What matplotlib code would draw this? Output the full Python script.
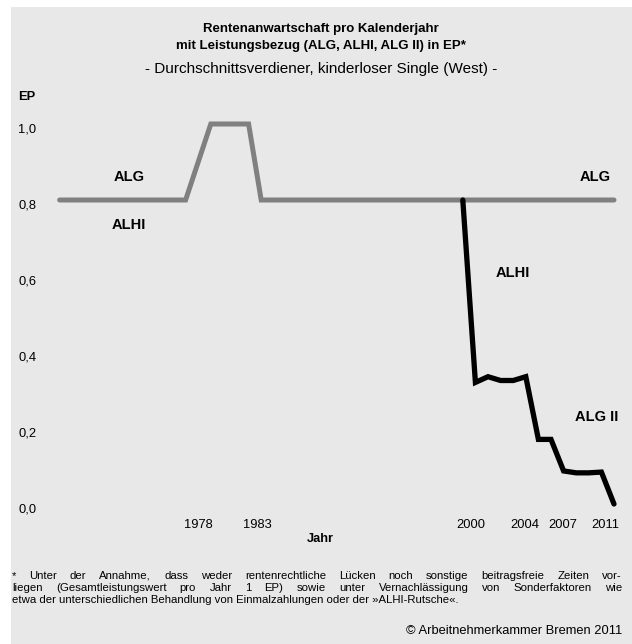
import matplotlib
matplotlib.use('Agg')
import matplotlib.pyplot as plt
from matplotlib.patches import Rectangle

plt.rcParams['font.family'] = ['Liberation Sans', 'DejaVu Sans']

# Data: ALG / ALHI up to 1999 (grey line)
alg_years = [1967, 1977, 1979, 1982, 1983, 2011]
alg_ep = [0.80, 0.80, 1.00, 1.00, 0.80, 0.80]

# ALHI from 2000, ALG II from 2005 (black line)
alhi_years = [1999, 2000, 2001, 2002, 2003, 2004, 2005, 2006, 2007, 2008, 2009, 2010, 2011]
alhi_ep = [0.80, 0.32, 0.335, 0.325, 0.325, 0.335, 0.17, 0.17, 0.087, 0.082, 0.082, 0.084, 0.0]

tick_years = ['1978', '1983', '2000', '2004', '2007', '2011']
tick_pos = [1978, 1982.7, 1999.6, 2003.9, 2006.9, 2010.3]
y_ticks = [0.0, 0.2, 0.4, 0.6, 0.8, 1.0]
y_labels = ['0,0', '0,2', '0,4', '0,6', '0,8', '1,0']

W, H = 632, 644
fig = plt.figure(figsize=(W / 100, H / 100), dpi=100)
fig.patch.set_facecolor('white')
fig.patches.append(Rectangle((11 / W, 0), 1 - 11 / W, 1 - 7 / H, transform=fig.transFigure,
                             facecolor='#e8e8e8', edgecolor='none', zorder=-5))

# axes placed in pixel units
left, right, top, bottom = 55, 625, 110, 510
ax = fig.add_axes([left / W, 1 - bottom / H, (right - left) / W, (bottom - top) / H])
ax.set_zorder(2)
ax.set_facecolor('none')
for s in ax.spines.values():
    s.set_visible(False)

px_year = 12.6
ax.set_xlim(2011 - (614 - left) / px_year, 2011 + (right - 614) / px_year)
ax.set_ylim((504 - bottom) / 380, (504 - top) / 380)

ax.plot(alg_years, alg_ep, color='#808080', lw=3.6, solid_capstyle='round', solid_joinstyle='miter')
ax.plot(alhi_years, alhi_ep, color='black', lw=3.8, solid_capstyle='round', solid_joinstyle='miter')

ax.set_xticks(tick_pos)
ax.set_xticklabels(tick_years, fontsize=9.3)
ax.set_yticks(y_ticks)
ax.set_yticklabels(y_labels, fontsize=9.3)
ax.tick_params(axis='both', length=0)
ax.tick_params(axis='x', pad=6.5)
ax.tick_params(axis='y', pad=(left - 18) * 0.72)
for lab in ax.get_yticklabels():
    lab.set_horizontalalignment('left')
    lab.set_verticalalignment('top')

ax.set_xlabel('Jahr', fontsize=9.3, fontweight='bold')
ax.xaxis.set_label_coords((320 - left) / (right - left), -(533 - bottom) / (bottom - top))

# series labels
lab_kw = dict(fontsize=10.5, fontweight='bold', ha='center', va='center')
ax.text(1972.5, 0.86, 'ALG', **lab_kw)
ax.text(1972.5, 0.734, 'ALHI', **lab_kw)
ax.text(2009.5, 0.86, 'ALG', **lab_kw)
ax.text(2003.0, 0.608, 'ALHI', **lab_kw)
ax.text(2009.65, 0.229, 'ALG II', **lab_kw)

# titles
fig.text(321 / W, 1 - 29 / H, 'Rentenanwartschaft pro Kalenderjahr', fontsize=9.5,
         fontweight='bold', ha='center', va='center')
fig.text(321 / W, 1 - 46 / H, 'mit Leistungsbezug (ALG, ALHI, ALG II) in EP*', fontsize=9.5,
         fontweight='bold', ha='center', va='center')
fig.text(321 / W, 1 - 69 / H, '- Durchschnittsverdiener, kinderloser Single (West) -',
         fontsize=11, ha='center', va='center')
fig.text(18 / W, 1 - 97 / H, 'EP', fontsize=9.3, fontweight='bold', ha='left', va='center')

# footnote, first two lines justified (baselines in px from top)
foot = [
    '* Unter der Annahme, dass weder rentenrechtliche Lücken noch sonstige beitragsfreie Zeiten vor-',
    'liegen (Gesamtleistungswert pro Jahr 1 EP) sowie unter Vernachlässigung von Sonderfaktoren wie',
    'etwa der unterschiedlichen Behandlung von Einmalzahlungen oder der »ALHI-Rutsche«.',
]
foot_y = [579, 591, 603]
foot_size = 8.2
x0, x1 = 12, 622
renderer = fig.canvas.get_renderer()
for i, line in enumerate(foot):
    y = 1 - foot_y[i] / H
    if i == len(foot) - 1:
        fig.text(x0 / W, y, line, fontsize=foot_size, ha='left', va='baseline')
        continue
    words = line.split(' ')
    texts = [fig.text(0, y, w, fontsize=foot_size, ha='left', va='baseline') for w in words]
    widths = [t.get_window_extent(renderer).width for t in texts]
    gap = (x1 - x0 - sum(widths)) / (len(words) - 1)
    x = x0
    for t, w in zip(texts, widths):
        t.set_x(x / W)
        x += w + gap

fig.text(622 / W, 1 - 631 / H, '© Arbeitnehmerkammer Bremen 2011', fontsize=9.3,
         ha='right', va='center')

fig.savefig('out.png', dpi=100)
